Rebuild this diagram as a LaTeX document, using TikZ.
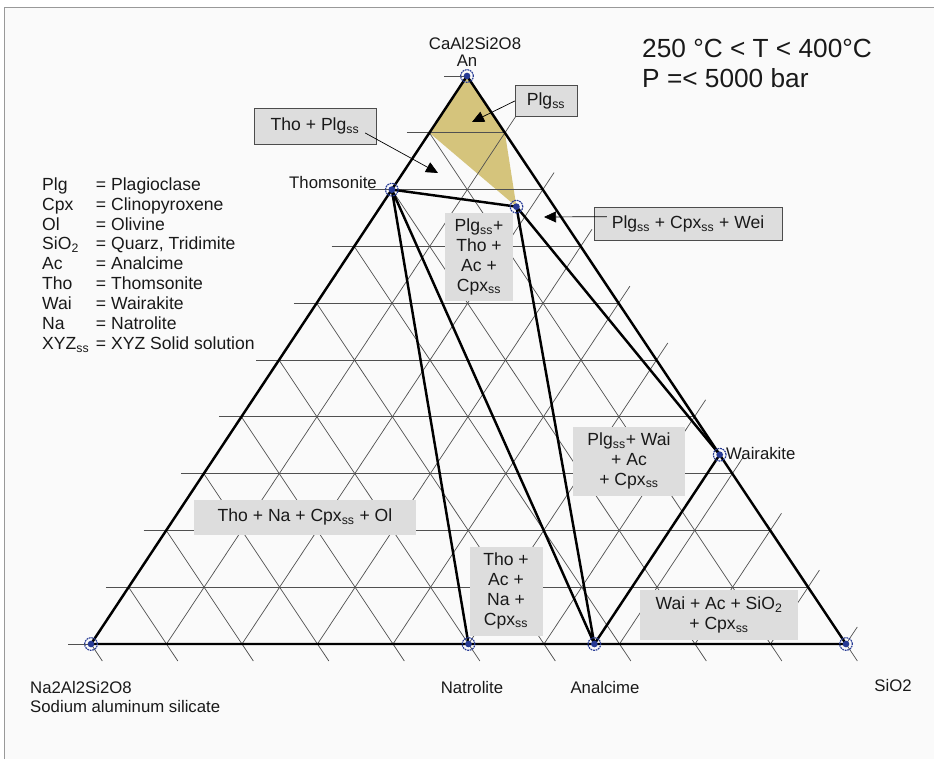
\documentclass[tikz,border=0pt]{standalone}
\usepackage{fontspec}
\setmainfont{Liberation Sans}
\usetikzlibrary{arrows.meta}

\newcommand{\ssub}{\textsubscript{ss}}
\definecolor{plgyellow}{RGB}{213,196,124}
\definecolor{ptblue}{RGB}{38,58,148}
\definecolor{boxgray}{RGB}{221,221,221}
\definecolor{gridgray}{RGB}{80,80,80}
\definecolor{bggray}{RGB}{250,250,250}
\definecolor{inkgray}{RGB}{25,25,25}

\begin{document}
\begin{tikzpicture}[x=0.03cm, y=-0.03cm, font=\fontsize{15}{17}\selectfont, text=inkgray,
  gridline/.style={gridgray, line width=0.6pt},
  tieline/.style={black, line width=2.1pt, line join=round},
  phasept/.style={circle, draw=ptblue, dash pattern=on 1.5pt off 0.7pt, line width=1pt,
    minimum size=0.38cm, inner sep=0pt,
    path picture={\fill[ptblue] (path picture bounding box.center) circle (0.1cm);}},
  ptlabel/.style={inner sep=0pt, font=\fontsize{14.3}{15.4}\selectfont},
  callout/.style={draw=black!70, fill=boxgray, inner sep=0pt, align=center},
  field/.style={fill=boxgray, inner sep=0pt, align=center},
  pointer/.style={-{Triangle[length=0.36cm,width=0.33cm]}, line width=0.6pt}]

\useasboundingbox (0,0) rectangle (934,759);
\fill[bggray] (4,7) rectangle (934,759);
\draw[gray!80, line width=0.8pt] (4,759) -- (4,7) -- (934,7);

% corners and phase points
\coordinate (na) at (91,644);
\coordinate (sio) at (846,644);
\coordinate (an) at (467,76);
\coordinate (tho) at (barycentric cs:na=0.2,sio=0,an=0.8);
\coordinate (plg) at (barycentric cs:na=0.05,sio=0.18,an=0.77);
\coordinate (wai) at (barycentric cs:na=0,sio=0.6667,an=0.3333);
\coordinate (nat) at (barycentric cs:na=0.5,sio=0.5,an=0);
\coordinate (anc) at (barycentric cs:na=0.3333,sio=0.6667,an=0);

\fill[plgyellow] (an) -- (barycentric cs:na=0.1,an=0.9) -- (plg) -- (barycentric cs:sio=0.1,an=0.9) -- cycle;

% ternary grid with outer ticks
\foreach \k in {0,...,10}{
  \pgfmathsetmacro\t{\k/10}
  \pgfmathsetmacro\s{1-\k/10}
  \pgfmathsetmacro\tx{\k/10+0.03}
  \pgfmathsetmacro\sx{1.03-\k/10}
  \draw[gridline] (barycentric cs:na=\sx,sio=-0.03,an=\t) -- (barycentric cs:na=0,sio=\s,an=\t);
  \draw[gridline] (barycentric cs:na=\s,sio=0,an=\t) -- (barycentric cs:na=\s,sio=\tx,an=-0.03);
  \ifnum\k>0
    \draw[gridline] (barycentric cs:na=\s,sio=\t,an=0) -- (barycentric cs:na=-0.03,sio=\t,an=\sx);
  \fi
}

\draw[tieline] (na) -- (sio) -- (an) -- cycle;
\draw[tieline] (nat) -- (tho) -- (plg) -- (anc) -- (tho);
\draw[tieline] (plg) -- (wai) -- (anc);

\foreach \p in {na,sio,an,tho,plg,wai,nat,anc}
  \node[phasept] (\p pt) at (\p) {};

% labels of the phase points
\node[ptlabel] (anname) at (475,44) {CaAl2Si2O8};
\node[ptlabel] (ansym) at (467,61) {An};
\node[ptlabel, anchor=east] (tholbl) at (377,183) {Thomsonite};
\node[ptlabel, anchor=west] (wailbl) at (726,454) {Wairakite};
\node[ptlabel, anchor=west, align=left] (nalbl) at (30,697) {Na2Al2Si2O8\\Sodium aluminum silicate};
\node[ptlabel] (natlbl) at (472,688) {Natrolite};
\node[ptlabel] (anclbl) at (605,688) {Analcime};
\node[ptlabel] (siolbl) at (893,686) {SiO2};

\node[anchor=west, align=left, inner sep=0pt, font=\fontsize{22.4}{25.6}\selectfont] (cond) at (642,63)
  {250 °C < T < 400°C\\P =< 5000 bar};

\node[anchor=north west, inner sep=0pt] (legend) at (42,176) {\begin{tabular}{@{}l@{\hspace{0.2cm}}l@{}}
Plg & = Plagioclase\\
Cpx & = Clinopyroxene\\
Ol & = Olivine\\
SiO\textsubscript{2} & = Quarz, Tridimite\\
Ac & = Analcime\\
Tho & = Thomsonite\\
Wai & = Wairakite\\
Na & = Natrolite\\
XYZ\ssub & = XYZ Solid solution
\end{tabular}};

% stability fields
\node[field, minimum width=2.04cm, minimum height=2.64cm] (plgthobox) at (479,257) {Plg\ssub+\\Tho +\\Ac +\\Cpx\ssub};
\node[field, minimum width=3.36cm, minimum height=2.07cm] (plgwaibox) at (629,461) {Plg\ssub+ Wai\\+ Ac\\+ Cpx\ssub};
\node[field, minimum width=6.63cm, minimum height=1.05cm] (thonabox) at (305,517) {Tho + Na + Cpx\ssub{} + Ol};
\node[field, minimum width=2.19cm, minimum height=2.67cm] (thoacbox) at (506,591) {Tho +\\Ac +\\Na +\\Cpx\ssub};
\node[field, minimum width=4.74cm, minimum height=1.5cm] (waiacbox) at (719,615) {Wai + Ac + SiO\textsubscript{2}\\+ Cpx\ssub};

% call-outs
\node[callout, minimum width=1.86cm, minimum height=0.93cm] (plgbox) at (546,101) {Plg\ssub};
\node[callout, minimum width=3.66cm, minimum height=1.08cm] (thoplgbox) at (315,126) {Tho + Plg\ssub};
\node[callout, minimum width=5.64cm, minimum height=0.99cm] (plgcpxbox) at (688,224) {Plg\ssub{} + Cpx\ssub{} + Wei};

\coordinate (plgtip) at (472,122);
\coordinate (thoplgtip) at (438,173);
\coordinate (plgcpxtip) at (544,217);
\draw[pointer] (plgbox.west) -- (plgtip);
\draw[pointer] ([xshift=-0.33cm,yshift=-0.21cm]thoplgbox.east) -- (thoplgtip);
\draw[pointer] ([xshift=0.39cm,yshift=0.22cm]plgcpxbox.west) -- (plgcpxtip);
\end{tikzpicture}
\end{document}
